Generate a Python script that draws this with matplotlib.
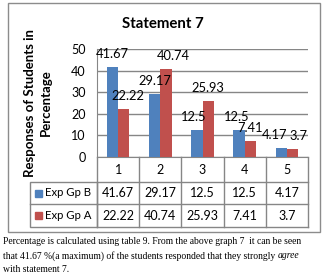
import matplotlib.pyplot as plt
from matplotlib.patches import Rectangle
from matplotlib.transforms import blended_transform_factory

categories = ["1", "2", "3", "4", "5"]
series_names = ["Exp Gp B", "Exp Gp A"]
exp_gp_b = [41.67, 29.17, 12.5, 12.5, 4.17]
exp_gp_a = [22.22, 40.74, 25.93, 7.41, 3.7]
colors = ["#4F81BD", "#C0504D"]
title = "Statement 7"
ylabel = "Responses of Students in\nPercentage"
yticks = [0, 10, 20, 30, 40, 50]

W, H = 329, 278
GRID = "#868686"
plt.rcParams["font.family"] = ["Lato", "DejaVu Sans"]

fig = plt.figure(figsize=(W / 100, H / 100), dpi=100)


def fy(py):
    # pixel row (from top) -> figure fraction
    return 1 - py / H


def fx(px):
    return px / W


# outer chart border
fig.add_artist(Rectangle((fx(8), fy(232)), fx(312), (232 - 3) / H, transform=fig.transFigure,
                         fill=False, edgecolor="#8c8c8c", lw=1.0))

ax = fig.add_axes([fx(97), fy(157), fx(211), 108 / H])
xs = list(range(len(categories)))
bw = 0.27
series = [exp_gp_b, exp_gp_a]
# small sideways nudges (points) where Excel pushed crowded labels apart
nudge = [[0, 0, -2, -2, -4.5], [3, 5, 0, 0, 4.5]]
for i, vals in enumerate(series):
    off = (i - 0.5) * bw
    bars = ax.bar([x + off for x in xs], vals, width=bw, color=colors[i], zorder=3)
    for j, (b, v) in enumerate(zip(bars, vals)):
        ax.annotate(f"{v:g}", (b.get_x() + b.get_width() / 2, v), xytext=(nudge[i][j], 9.5),
                    textcoords="offset points", ha="center", va="center", fontsize=9.3, zorder=4)

ax.set_xlim(-0.5, len(categories) - 0.5)
ax.set_ylim(0, 50)
ax.set_yticks(yticks)
ax.set_xticks([])
ax.tick_params(axis="y", length=0, pad=8, labelsize=9)
ax.yaxis.grid(True, color=GRID, lw=1.0, zorder=0)
for s in ["top", "right"]:
    ax.spines[s].set_visible(False)
for s in ["left", "bottom"]:
    ax.spines[s].set_color(GRID)
ax.set_ylabel(ylabel, fontsize=9.5, fontweight="bold", labelpad=14, linespacing=1.35)
fig.text(fx(163), fy(24), title, ha="center", va="center", fontsize=10.8, fontweight="bold")

# data table below the plot
tr = blended_transform_factory(ax.transData, fig.transFigure)
row_y = [157, 182, 204, 227]
x_left, x_right = -0.5, len(categories) - 0.5
ln = dict(color=GRID, lw=1.0, clip_on=False, transform=tr)
for ry in row_y[1:]:
    ax.plot([x_left, x_right], [fy(ry)] * 2, **ln)
for k in range(len(categories) + 1):
    ax.plot([k - 0.5] * 2, [fy(row_y[0]), fy(row_y[3])], **ln)
# legend column
lx0 = fx(30)
fig.add_artist(Rectangle((lx0, fy(row_y[3])), fx(97) - lx0, (row_y[3] - row_y[1]) / H,
                         transform=fig.transFigure, fill=False, edgecolor=GRID, lw=1.0))
fig.add_artist(plt.Line2D([lx0, fx(97)], [fy(row_y[2])] * 2, transform=fig.transFigure, color=GRID, lw=1.0))

for k, c in enumerate(categories):
    ax.text(k, fy((row_y[0] + row_y[1]) / 2), c, transform=tr, ha="center", va="center", fontsize=9)
for r, (name, vals) in enumerate(zip(series_names, series)):
    yc = fy((row_y[r + 1] + row_y[r + 2]) / 2)
    fig.add_artist(Rectangle((fx(35), yc - 3.5 / H), fx(7), 7 / H, transform=fig.transFigure,
                             color=colors[r]))
    fig.text(fx(45), yc, name, ha="left", va="center", fontsize=8.2)
    for k, v in enumerate(vals):
        ax.text(k, yc, f"{v:g}", transform=tr, ha="center", va="center", fontsize=9)

# caption below the chart
cap = dict(fontsize=6.9, family="Liberation Serif", ha="left", va="center")
fig.text(fx(3), fy(242), "Percentage is calculated using table 9. From the above graph 7  it can be seen", **cap)
t = fig.text(fx(3), fy(256), "that 41.67 %(a maximum) of the students responded that they strongly ", **cap)
fig.canvas.draw()
bb = t.get_window_extent()
fig.text(bb.x1 / W, fy(256), "agree", style="italic", **cap)
fig.text(fx(3), fy(269), "with statement 7.", **cap)

fig.savefig("out.png", dpi=100)
